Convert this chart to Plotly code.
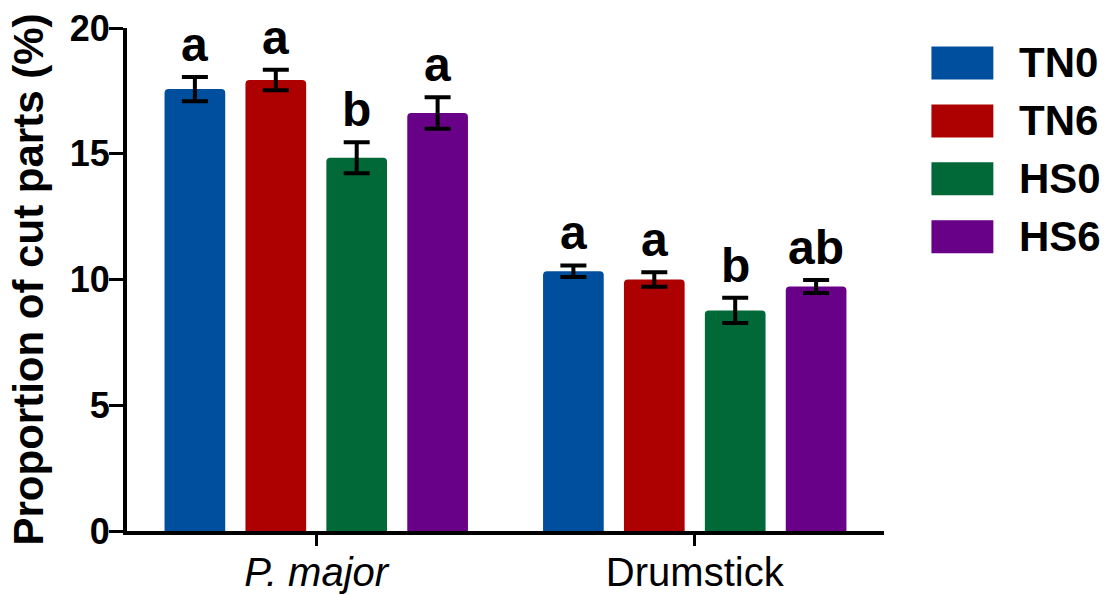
import plotly.graph_objects as go

# Cut-part yields by treatment group
cuts = ["P. major", "Drumstick"]
cut_labels = ["<i>P. major</i>", "Drumstick"]
groups = ["TN0", "TN6", "HS0", "HS6"]
colors = ["#004F9F", "#AD0000", "#006937", "#680088"]

mean_tn0 = [17.57, 10.33]
mean_tn6 = [17.93, 10.00]
mean_hs0 = [14.84, 8.77]
mean_hs6 = [16.62, 9.72]

sem_tn0 = [0.48, 0.23]
sem_tn6 = [0.41, 0.29]
sem_hs0 = [0.62, 0.50]
sem_hs6 = [0.63, 0.26]

letters_tn0 = ["a", "a"]
letters_tn6 = ["a", "a"]
letters_hs0 = ["b", "b"]
letters_hs6 = ["a", "ab"]

means = [mean_tn0, mean_tn6, mean_hs0, mean_hs6]
sems = [sem_tn0, sem_tn6, sem_hs0, sem_hs6]
letters = [letters_tn0, letters_tn6, letters_hs0, letters_hs6]

FONT = "Liberation Sans, Arial, Helvetica, sans-serif"
W, H = 1104, 595
ML, MR, MT, MB = 126.5, 219.5, 27.5, 64
BARGAP, GROUPGAP = 0.145, 0.25

fig = go.Figure()
for name, col, m, s in zip(groups, colors, means, sems):
    fig.add_trace(go.Bar(
        x=list(range(len(cuts))), y=m, name=name,
        marker=dict(color=col, line=dict(width=0), cornerradius=4),
        error_y=dict(type="data", array=s, visible=True,
                     color="black", thickness=4, width=13),
        showlegend=False,
    ))

# significance letters above each error bar
slot = (1 - BARGAP) / len(groups)
for gi, (m, s, lt) in enumerate(zip(means, sems, letters)):
    for ci in range(len(cuts)):
        xc = ci - (1 - BARGAP) / 2 + (gi + 0.5) * slot
        fig.add_annotation(
            x=xc, y=m[ci] + s[ci], text=f"<b>{lt[ci]}</b>",
            showarrow=False, yanchor="bottom", yshift=4,
            font=dict(family=FONT, size=48, color="black"),
        )

# legend drawn as rounded swatches with labels
pw = W - ML - MR
ph = H - MT - MB
def px_x(p):
    return (p - ML) / pw
def px_y(p):
    return 1 - (p - MT) / ph

for i, (name, col) in enumerate(zip(groups, colors)):
    top = 46 + 58 * i
    fig.add_shape(
        type="rect", xref="paper", yref="paper",
        x0=px_x(932), x1=px_x(994), y0=px_y(top + 33), y1=px_y(top),
        fillcolor=col, line=dict(width=0), layer="above",
    )
    fig.add_annotation(
        xref="paper", yref="paper", x=px_x(1018), y=px_y(top + 16.5),
        text=f"<b>{name}</b>", showarrow=False,
        xanchor="left", yanchor="middle",
        font=dict(family=FONT, size=42, color="black"),
    )

fig.update_layout(
    width=W, height=H,
    margin=dict(l=ML, r=MR, t=MT, b=MB, pad=0),
    paper_bgcolor="white", plot_bgcolor="white",
    barmode="group", bargap=BARGAP, bargroupgap=GROUPGAP,
    font=dict(family=FONT, color="black"),
    xaxis=dict(
        tickmode="array", tickvals=list(range(len(cuts))), ticktext=cut_labels,
        range=[-0.5, 1.5], showline=True, linecolor="black", linewidth=4,
        ticks="outside", ticklen=11, tickwidth=3, tickcolor="black",
        showgrid=False, zeroline=False, automargin=False,
        ticklabelstandoff=-8,
        tickfont=dict(family=FONT, size=40, color="black"),
    ),
    yaxis=dict(
        range=[0, 20], tickvals=[0, 5, 10, 15, 20],
        showline=True, linecolor="black", linewidth=4,
        ticks="outside", ticklen=14, tickwidth=3, tickcolor="black",
        showgrid=False, zeroline=False, automargin=False,
        ticklabelstandoff=-8,
        tickfont=dict(family=FONT, size=36, color="black", weight="bold"),
        title=dict(text="<b>Proportion of cut parts (%)</b>",
                   font=dict(family=FONT, size=42, color="black"), standoff=14),
    ),
)

fig.write_html("out.html")
